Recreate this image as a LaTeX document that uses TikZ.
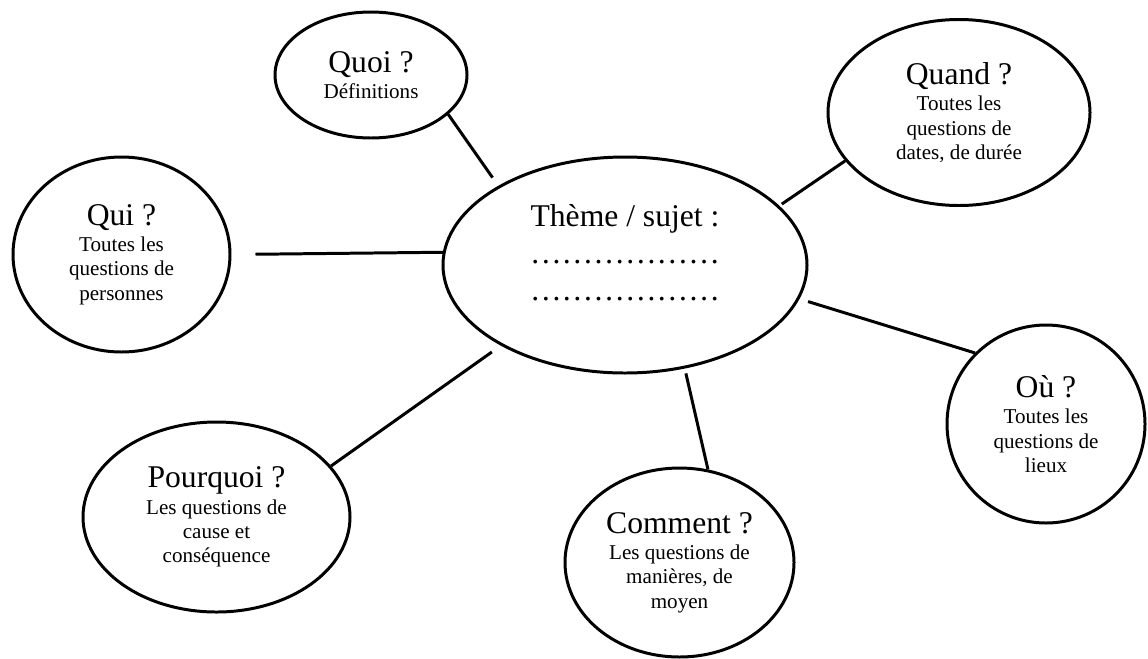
\documentclass[tikz,border=0pt]{standalone}
\usepackage{fontspec}
\setmainfont{Liberation Serif}
\usetikzlibrary{shapes}

\begin{document}
\begin{tikzpicture}[line width=1.7pt, bulle/.style={ellipse, draw, align=center, inner sep=0pt, font=\fontsize{12}{13.8}\selectfont}, titre/.style={font=\fontsize{18}{21}\selectfont}]
		\useasboundingbox (0, 0) rectangle (22.96, -13.16);
		
		\node[bulle, titre, minimum width=7.28cm, minimum height=4.32cm] (theme) at (12.5, -5.3) {Thème / sujet :\\………………\\………………\rule[-14pt]{0pt}{14pt}};
		
		\node[bulle, minimum width=3.84cm, minimum height=2.52cm] (quoi) at (7.42, -1.5) {{\fontsize{18}{21}\selectfont Quoi ?}\\[1.2pt]Définitions};
		\node[bulle, minimum width=5.24cm, minimum height=3.72cm] (quand) at (19.18, -2.25) {{\fontsize{18}{21}\selectfont Quand ?}\\[1.2pt]Toutes les\\questions de\\dates, de durée};
		\node[bulle, minimum width=4.34cm, minimum height=3.9cm] (qui) at (2.43, -5.09) {{\fontsize{18}{21}\selectfont Qui ?}\\[1.2pt]Toutes les\\questions de\\personnes};
		\node[bulle, minimum width=3.96cm, minimum height=3.96cm] (ou) at (20.92, -8.48) {{\fontsize{18}{21}\selectfont Où ?}\\[1.2pt]Toutes les\\questions de\\lieux};
		\node[bulle, minimum width=5.34cm, minimum height=3.8cm] (pourquoi) at (4.33, -10.34) {{\fontsize{18}{21}\selectfont Pourquoi ?}\\[1.2pt]Les questions de\\cause et\\conséquence};
		\node[bulle, minimum width=4.58cm, minimum height=3.78cm] (comment) at (13.59, -11.25) {{\fontsize{18}{21}\selectfont Comment ?}\\[1.2pt]Les questions de\\manières, de\\moyen};
		
		\path (quoi.-27) edge[shorten >=0.2cm] (theme.148)
			(theme.21) edge[shorten <=0.06cm] (quand.203)
			(qui.east) edge[shorten <=0.48cm] (theme.176)
			(theme.-11) edge[shorten <=0.18cm] (ou.135)
			(theme.-60) edge[shorten <=0.1cm] (comment.73)
			(theme.213) edge[shorten <=0.22cm] (pourquoi.24);
	\end{tikzpicture}
\end{document}
